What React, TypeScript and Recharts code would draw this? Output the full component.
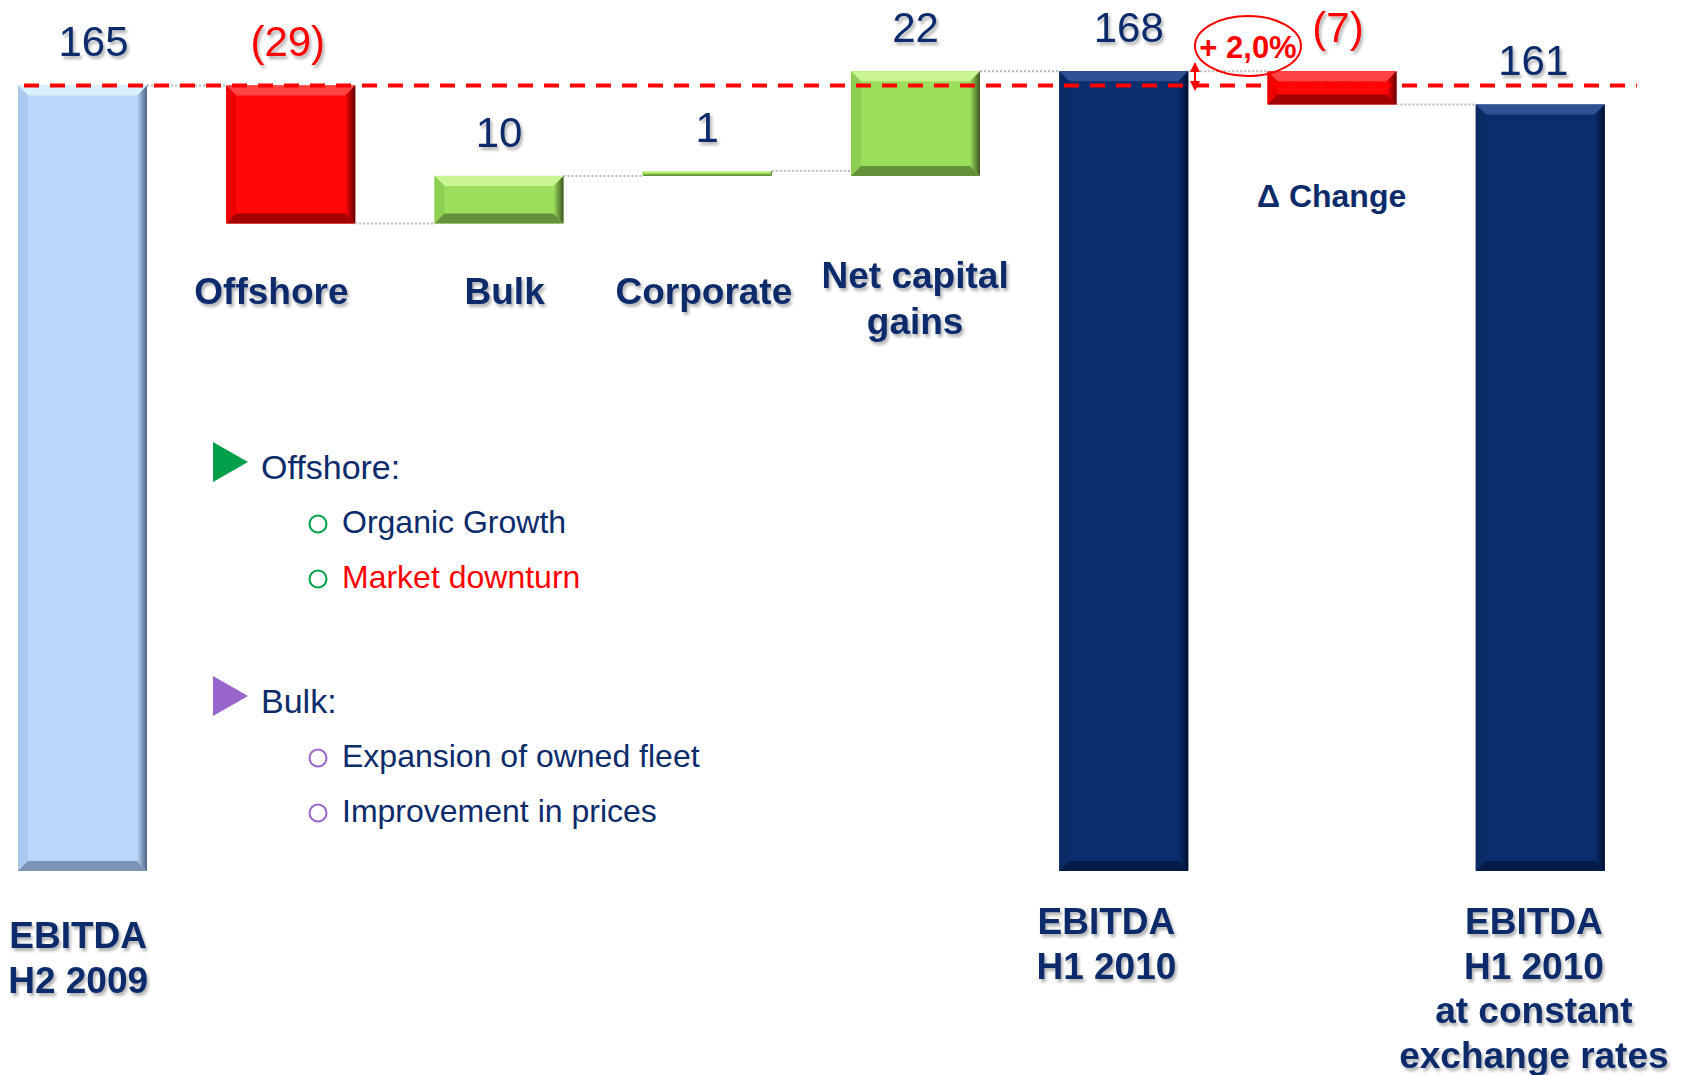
import React from 'react';
import { BarChart, Bar, XAxis, YAxis, ReferenceLine, LabelList } from 'recharts';

// waterfall steps
const categories = [
  'EBITDA\nH2 2009',
  'Offshore',
  'Bulk',
  'Corporate',
  'Net capital\ngains',
  'EBITDA\nH1 2010',
  'Δ Change',
  'EBITDA\nH1 2010\nat constant\nexchange rates',
];
const bases = [0, 136, 136, 146, 146, 0, 161, 0];
const values = [165, 29, 10, 1, 22, 168, 7, 161];
const valueLabels = ['165', '(29)', '10', '1', '22', '168', '(7)', '161'];
const kinds = ['start', 'down', 'up', 'up', 'up', 'total', 'down', 'total'];
const referenceLevel = 165;

const offshoreNotes = ['Organic Growth', 'Market downturn'];
const bulkNotes = ['Expansion of owned fleet', 'Improvement in prices'];
const changeNote = '+ 2,0%';

const FONT = '"Liberation Sans", Arial, sans-serif';
const NAVY = '#0b2b6b';
const RED = '#ff0000';

const CHART_W = 1706;
const CHART_H = 1075;
const MARGIN = { top: 14, right: 40, bottom: 174, left: 0 };
const BAR_W = 129;
const BAND = (CHART_W - MARGIN.left - MARGIN.right) / categories.length;

// small horizontal nudges the slide has on some text boxes
const tickNudge: Record<string, number> = {
  'Offshore': -19,
  'Bulk': 6,
  'Corporate': -3,
  'EBITDA\nH1 2010': -17,
  'EBITDA\nH1 2010\nat constant\nexchange rates': -6,
  'EBITDA\nH2 2009': -4,
};
const valueNudge: Record<string, number> = { '165': 11, '(29)': -3, '168': 5, '(7)': 6, '161': -7 };

const PALETTE: Record<string, { fill: string; top: string; left: string; right: string; bottom: string }> = {
  start: { fill: '#b8d7fb', top: '#d9f0ff', left: '#a9c9ef', right: '#4d6282', bottom: '#7d93b5' },
  down: { fill: '#ff0707', top: '#ff4444', left: '#ee0000', right: '#5e0000', bottom: '#a30000' },
  up: { fill: '#9bde5b', top: '#c9f592', left: '#8dcf52', right: '#3c5621', bottom: '#65913b' },
  total: { fill: '#0a2d6e', top: '#2e5094', left: '#092a63', right: '#020f30', bottom: '#051c4b' },
};

const data = categories.map((name, i) => ({
  name,
  base: bases[i],
  value: values[i],
  label: valueLabels[i],
  kind: kinds[i],
}));

function BevelBar(props: any) {
  const { x, y, width: w, height: h, payload, index } = props;
  const p = PALETTE[payload.kind];
  const b = Math.max(1, Math.min(10, h / 3, w / 3));
  const endY = payload.kind === 'down' ? y + h : y;
  return (
    <g>
      <rect x={x} y={y} width={w} height={h} fill={p.fill} />
      <polygon points={`${x},${y} ${x + w},${y} ${x + w - b},${y + b} ${x + b},${y + b}`} fill={p.top} />
      <polygon points={`${x},${y} ${x + b},${y + b} ${x + b},${y + h - b} ${x},${y + h}`} fill={p.left} />
      <polygon points={`${x},${y + h} ${x + b},${y + h - b} ${x + w - b},${y + h - b} ${x + w},${y + h}`} fill={p.bottom} />
      <polygon points={`${x + w},${y} ${x + w - b},${y + b} ${x + w - b},${y + h - b} ${x + w},${y + h}`} fill={`url(#rg-${payload.kind})`} />
      {index < categories.length - 1 && (
        <line x1={x + w} y1={endY} x2={x + w + (BAND - BAR_W)} y2={endY} stroke="#b8b8b8" strokeWidth={2} strokeDasharray="2 2" />
      )}
    </g>
  );
}

function ValueLabel(props: any) {
  const { x, y, width, value } = props;
  const neg = String(value).startsWith('(');
  return (
    <text
      x={x + width / 2 + (valueNudge[value] || 0)}
      y={y - 29}
      textAnchor="middle"
      fontFamily={FONT}
      fontSize={42}
      fill={neg ? RED : NAVY}
      filter="url(#txtShadow)"
    >
      {value}
    </text>
  );
}

function CategoryTick(props: any) {
  const { payload } = props;
  const name: string = payload.value;
  const x = props.x + (tickNudge[name] || 0);
  const lines = name.split('\n');
  const idx = categories.indexOf(name);
  const kind = kinds[idx];
  const isTotal = kind === 'start' || kind === 'total';
  let y0 = 304 - (lines.length - 1) * 16;
  let size = 37;
  if (kind === 'start') y0 = 948;
  if (kind === 'total') y0 = 934;
  if (name === 'Δ Change') {
    y0 = 207;
    size = 32;
  }
  const lh = isTotal ? 44.5 : 46;
  return (
    <text
      x={x}
      y={y0}
      textAnchor="middle"
      fontFamily={FONT}
      fontWeight="bold"
      fontSize={size}
      fill={NAVY}
      filter={name === 'Δ Change' ? undefined : 'url(#txtShadow)'}
    >
      {lines.map((l, i) => (
        <tspan key={i} x={x} y={y0 + i * lh}>
          {l}
        </tspan>
      ))}
    </text>
  );
}

function Notes() {
  const tri = (x: number, y: number, c: string) => (
    <polygon points={`${x},${y} ${x + 35},${y + 20} ${x},${y + 40}`} fill={c} />
  );
  const sub = (items: string[], y0: number, ring: string, colors: string[]) =>
    items.map((t, i) => (
      <g key={t}>
        <circle cx={318} cy={y0 + i * 55 - 9} r={8.5} fill="none" stroke={ring} strokeWidth={2} />
        <text x={342} y={y0 + i * 55} fontFamily={FONT} fontSize={32} fill={colors[i]}>
          {t}
        </text>
      </g>
    ));
  return (
    <svg
      width={1684}
      height={1075}
      style={{ position: 'absolute', left: 0, top: 0, pointerEvents: 'none' }}
    >
      {tri(213, 442, '#00a04a')}
      <text x={261} y={479} fontFamily={FONT} fontSize={34} fill={NAVY}>Offshore:</text>
      {sub(offshoreNotes, 533, '#00a04a', [NAVY, RED])}
      {tri(213, 676, '#9966cc')}
      <text x={261} y={713} fontFamily={FONT} fontSize={34} fill={NAVY}>Bulk:</text>
      {sub(bulkNotes, 767, '#9966cc', [NAVY, NAVY])}

      <ellipse cx={1248} cy={46} rx={53} ry={30} fill="none" stroke={RED} strokeWidth={2} />
      <text x={1248} y={58} textAnchor="middle" fontFamily={FONT} fontWeight="bold" fontSize={31} fill={RED}>
        {changeNote}
      </text>
      <line x1={1195} y1={66} x2={1195} y2={86} stroke={RED} strokeWidth={2} />
      <polygon points="1195,62 1200,72 1190,72" fill={RED} />
      <polygon points="1195,91 1200,81 1190,81" fill={RED} />
    </svg>
  );
}

export default function App() {
  return (
    <div style={{ position: 'absolute', left: 0, top: 0, width: 1684, height: 1075, overflow: 'hidden', background: '#fff' }}>
      <svg width={0} height={0} style={{ position: 'absolute' }}>
        <defs>
          <filter id="txtShadow" x="-20%" y="-20%" width="140%" height="150%">
            <feDropShadow dx={2} dy={3} stdDeviation={1.5} floodColor="#000" floodOpacity={0.3} />
          </filter>
          {Object.keys(PALETTE).map((k) => (
            <linearGradient key={k} id={`rg-${k}`} x1="0" y1="0" x2="1" y2="0">
              <stop offset="0%" stopColor={PALETTE[k].fill} />
              <stop offset="100%" stopColor={PALETTE[k].right} />
            </linearGradient>
          ))}
        </defs>
      </svg>
      <div style={{ position: 'absolute', left: -22, top: 0 }}>
        <BarChart width={CHART_W} height={CHART_H} data={data} margin={MARGIN}>
          <XAxis dataKey="name" axisLine={false} tickLine={false} interval={0} height={30} tick={<CategoryTick />} />
          <YAxis hide domain={[0, 180]} />
          <Bar dataKey="base" stackId="w" fill="transparent" barSize={BAR_W} isAnimationActive={false} />
          <Bar dataKey="value" stackId="w" barSize={BAR_W} shape={<BevelBar />} isAnimationActive={false}>
            <LabelList dataKey="label" content={<ValueLabel />} />
          </Bar>
          <ReferenceLine
            y={referenceLevel}
            shape={(p: any) => (
              <line
                x1={p.x1 + 46}
                y1={p.y1}
                x2={p.x2 - 7}
                y2={p.y2}
                stroke={RED}
                strokeWidth={4}
                strokeDasharray="15 11"
              />
            )}
          />
        </BarChart>
      </div>
      <Notes />
    </div>
  );
}
